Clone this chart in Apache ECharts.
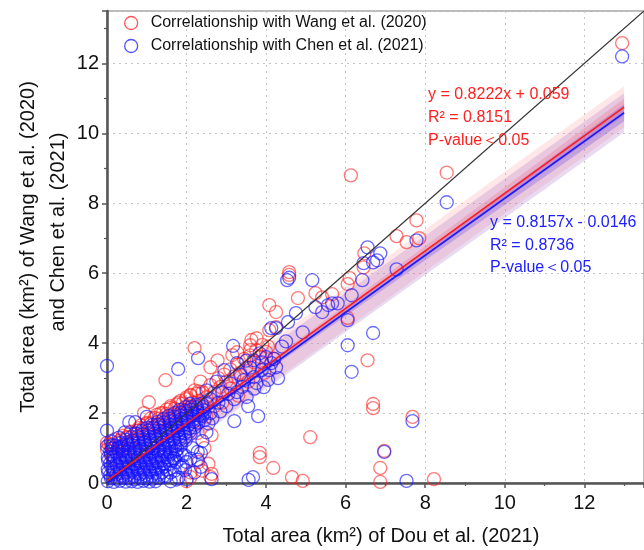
<!DOCTYPE html>
<html>
<head>
<meta charset="utf-8">
<script src="https://cdn.jsdelivr.net/npm/echarts@6/dist/echarts.min.js"></script>
<style>
  html, body { margin: 0; padding: 0; background: #fff; }
  #chart { width: 644px; height: 550px; }
</style>
</head>
<body>
<div id="chart"></div>
<script>
// ====================== data ======================
// Wang et al. (2020) vs Dou et al. (2021)
var wangPts = [
  [12.95,12.58],[6.13,8.8],[8.54,8.88],[7.78,7.51],[7.28,7.06],[7.53,6.89],[7.85,7.0],
  [6.47,6.57],[6.45,6.17],[6.1,5.86],[6.05,5.69],[5.66,5.4],[6.05,4.72],[6.55,3.51],
  [6.69,2.26],[6.69,2.14],[7.68,1.89],[6.97,0.92],[6.87,0.43],[6.87,0.03],[8.22,0.11],
  [5.11,1.31],[3.84,0.86],[3.84,0.74],[4.18,0.43],[4.65,0.17],[4.92,0.06],[2.63,1.37],
  [2.63,0.26],[2.6,0.17],[2.1,0.17],[2.28,1.43],
  [4.58,6.03],[4.58,5.95],[4.08,5.09],[4.25,4.89],[4.8,5.29],[5.24,5.43],[5.41,5.31],
  [3.6,3.94],[3.76,4.14],[4.08,4.37],[3.6,3.8],[3.27,3.74],[2.2,3.86],[1.47,2.94],
  [1.05,2.31],[2.6,3.31],[2.78,3.51],[3.15,3.66],[4.25,4.46],[3.63,4.09],[0.93,2.0],
  [1.26,1.66],[0.8,1.5],
  [2.4,2.6],[2.5,2.45],[2.6,2.8],[2.7,2.6],[2.8,3.0],[2.85,2.75],[2.95,3.1],[3.0,2.9],
  [3.1,3.25],[3.2,3.05],[3.3,3.4],[3.35,3.15],[3.45,3.55],[3.5,3.3],[3.6,3.65],[3.7,3.45],
  [3.75,3.8],[3.85,3.6],[3.9,3.95],[4.0,3.75],[4.05,3.9],[4.2,3.55],[3.3,2.5],[3.55,2.9],
  [2.9,2.3],[3.1,2.7],[3.95,3.15],[2.5,1.9],[2.7,2.2],[2.35,2.9],[2.45,2.2],
  [0.0,0.95],[0.05,1.1],[0.1,0.8],[0.15,1.0],[0.2,0.7],[0.25,1.15],[0.3,0.9],[0.35,1.25],
  [0.4,1.05],[0.45,0.8],[0.5,1.3],[0.55,1.1],[0.6,1.45],[0.65,1.2],[0.7,0.95],[0.75,1.5],
  [0.8,1.3],[0.85,1.65],[0.9,1.4],[0.95,1.15],[1.0,1.7],[1.05,1.5],[1.1,1.85],[1.15,1.6],
  [1.2,1.35],[1.25,1.95],[1.3,1.7],[1.35,2.0],[1.4,1.8],[1.45,1.5],[1.5,2.1],[1.55,1.9],
  [1.6,2.2],[1.65,1.95],[1.7,1.7],[1.75,2.25],[1.8,2.05],[1.85,2.35],[1.9,2.1],[1.95,1.85],
  [2.0,2.4],[2.05,2.2],[2.1,2.5],[2.15,2.3],[2.2,2.0],[2.25,2.55],[2.3,2.35],
  [2.3,0.6],[2.1,0.3],[2.45,1.0],[2.55,0.55],[2.0,0.05],[2.4,0.35],
  [0.0,1.15],[0.1,1.1],[0.2,1.25],[0.3,1.2],[0.4,1.35],[0.5,1.32],[0.6,1.47],[0.7,1.42],
  [0.8,1.57],[0.9,1.55],[1.0,1.72],[1.1,1.7],[1.2,1.86],[1.3,1.84],[1.4,2.0],[1.5,1.98],
  [1.6,2.15],[1.7,2.13],[1.8,2.3],[1.9,2.28],[2.0,2.45],[2.1,2.52],[2.2,2.65],[2.3,2.62]
];

// Chen et al. (2021) vs Dou et al. (2021)
var chenPts = [
  [12.95,12.2],[8.54,8.03],[6.55,6.74],[6.87,6.57],[6.79,6.37],[6.69,6.31],[6.45,6.29],
  [7.78,6.94],[7.28,6.11],[6.42,5.8],[6.15,5.37],[5.8,5.14],[6.05,4.66],[6.05,3.94],
  [6.69,4.29],[6.15,3.18],[7.68,1.77],[6.97,0.89],[7.53,0.06],[3.67,0.17],[3.56,0.09],
  [3.8,1.91],[3.2,1.77],[2.36,0.86],[2.36,0.46],[2.63,0.11],[0.0,3.35],[0.0,1.5],
  [1.79,3.26],[2.29,3.57],[3.17,3.92],[4.58,5.87],[4.53,5.8],[5.16,5.8],[4.75,4.86],
  [4.55,4.6],[4.92,4.31],[5.24,5.03],[5.41,4.89],[5.56,5.09],[5.66,5.14],[4.13,4.43],
  [4.25,4.43],[4.4,3.9],[4.5,4.05],
  [3.69,3.51],[3.84,3.71],[4.0,3.6],[4.13,3.43],[3.89,3.23],[3.94,2.74],[3.27,2.6],
  [3.51,2.46],[2.95,3.23],[3.27,3.43],[3.44,2.94],[3.69,3.03],[4.08,3.23],[4.25,3.31],
  [4.3,3.0],[3.76,2.86],[3.5,3.5],[3.6,3.3],[3.35,3.1],[3.1,2.85],[2.9,2.6],[2.75,2.9],
  [2.6,2.4],[2.5,2.65],[2.8,2.3],[3.0,2.2],[3.2,2.4],[3.4,2.75],[3.55,2.2],[3.9,3.45],
  [4.05,2.95],[4.2,3.55],[2.85,2.05],[2.65,1.85],[3.05,2.55],[3.7,2.7],
  [0.0,1.05],[0.1,1.2],[0.56,1.74],[0.71,1.74],[1.0,1.89],[0.3,1.3],[0.45,1.45],
  [0.14,1.08],[0.31,1.03],[0.44,1.09],
  [1.75,0.1],[1.6,0.3],[1.85,0.45],[1.7,0.7],[2.0,0.6],[1.9,0.8],
  [1.5,0.2],[1.6,0.05],[1.7,0.35],[1.8,0.15],[1.9,0.5],[1.96,0.37],
  [2.0,0.1],[2.1,0.7],[2.2,0.3],[2.28,0.89],[2.28,0.66],[2.15,1.0],[1.95,0.8],[1.75,0.6],
  [2.4,1.2],[2.5,1.45],[2.55,1.7],[2.45,1.8],[2.6,2.0]
];

// the solid core of Chen points near the origin
var chenCore = [
  [0.02,0.05],[0.17,0.03],[0.32,0.06],[0.47,0.04],[0.62,0.05],[0.77,0.03],[0.92,0.06],[1.07,0.04],[1.22,0.05],
  [0.08,0.22],[0.23,0.24],[0.38,0.21],[0.53,0.23],[0.68,0.2],[0.83,0.24],[0.98,0.22],[1.13,0.21],[1.28,0.23],[1.42,0.2],
  [0.02,0.39],[0.17,0.41],[0.32,0.38],[0.47,0.4],[0.62,0.37],[0.77,0.41],[0.92,0.39],[1.07,0.38],[1.22,0.4],[1.37,0.41],[1.5,0.38],
  [0.08,0.56],[0.23,0.55],[0.38,0.58],[0.53,0.56],[0.68,0.54],[0.83,0.57],[0.98,0.56],[1.13,0.55],[1.28,0.58],[1.43,0.56],[1.58,0.55],
  [0.02,0.73],[0.17,0.75],[0.32,0.72],[0.47,0.74],[0.62,0.73],[0.77,0.71],[0.92,0.74],[1.07,0.73],[1.22,0.72],[1.37,0.75],[1.52,0.73],[1.67,0.71],
  [0.08,0.9],[0.23,0.88],[0.38,0.91],[0.53,0.9],[0.68,0.89],[0.83,0.92],[0.98,0.9],[1.13,0.88],[1.28,0.91],[1.43,0.9],[1.58,0.89],[1.73,0.92],
  [0.22,1.07],[0.37,1.05],[0.52,1.08],[0.67,1.07],[0.82,1.06],[0.97,1.09],[1.12,1.07],[1.27,1.05],[1.42,1.08],[1.57,1.07],[1.72,1.06],[1.87,1.09],
  [0.48,1.24],[0.63,1.22],[0.78,1.25],[0.93,1.24],[1.08,1.23],[1.23,1.26],[1.38,1.24],[1.53,1.22],[1.68,1.25],[1.83,1.24],[1.98,1.23],
  [0.75,1.41],[0.9,1.39],[1.05,1.42],[1.2,1.41],[1.35,1.4],[1.5,1.43],[1.65,1.41],[1.8,1.39],[1.95,1.42],[2.1,1.41],
  [1.02,1.58],[1.17,1.56],[1.32,1.59],[1.47,1.58],[1.62,1.57],[1.77,1.6],[1.92,1.58],[2.07,1.56],[2.2,1.59],
  [1.28,1.75],[1.43,1.73],[1.58,1.76],[1.73,1.75],[1.88,1.74],[2.03,1.77],[2.18,1.75],[2.3,1.73],
  [1.55,1.92],[1.7,1.9],[1.85,1.93],[2.0,1.92],[2.15,1.91],[2.3,1.94],[2.4,1.92],
  [1.82,2.09],[1.97,2.07],[2.12,2.1],[2.27,2.09],[2.42,2.08],
  [2.08,2.26],[2.23,2.24],[2.38,2.27],[2.52,2.26],
  [0.1,0.13],[0.25,0.12],[0.4,0.15],[0.55,0.13],[0.7,0.11],[0.85,0.14],[1.0,0.13],[1.15,0.12],[1.3,0.14],
  [0.03,0.3],[0.18,0.31],[0.33,0.29],[0.48,0.3],[0.63,0.32],[0.78,0.29],[0.93,0.3],[1.08,0.31],[1.23,0.29],[1.38,0.3],
  [0.1,0.47],[0.25,0.48],[0.4,0.46],[0.55,0.47],[0.7,0.49],[0.85,0.46],[1.0,0.47],[1.15,0.48],[1.3,0.46],[1.45,0.47],
  [0.03,0.64],[0.18,0.65],[0.33,0.63],[0.48,0.64],[0.63,0.66],[0.78,0.63],[0.93,0.64],[1.08,0.65],[1.23,0.63],[1.38,0.64],[1.53,0.66],[1.63,0.63],
  [0.1,0.81],[0.25,0.82],[0.4,0.8],[0.55,0.81],[0.7,0.83],[0.85,0.8],[1.0,0.81],[1.15,0.82],[1.3,0.8],[1.45,0.81],[1.6,0.83],[1.75,0.8],
  [0.12,0.98],[0.27,0.99],[0.42,0.97],[0.57,0.98],[0.72,1.0],[0.87,0.97],[1.02,0.98],[1.17,0.99],[1.32,0.97],[1.47,0.98],[1.62,1.0],[1.77,0.97],
  [0.35,1.15],[0.5,1.16],[0.65,1.14],[0.8,1.15],[0.95,1.17],[1.1,1.14],[1.25,1.15],[1.4,1.16],[1.55,1.14],[1.7,1.15],[1.85,1.17],
  [0.62,1.32],[0.77,1.33],[0.92,1.31],[1.07,1.32],[1.22,1.34],[1.37,1.31],[1.52,1.32],[1.67,1.33],[1.82,1.31],[1.97,1.32],
  [0.88,1.49],[1.03,1.5],[1.18,1.48],[1.33,1.49],[1.48,1.51],[1.63,1.48],[1.78,1.49],[1.93,1.5],[2.08,1.48],
  [1.15,1.66],[1.3,1.67],[1.45,1.65],[1.6,1.66],[1.75,1.68],[1.9,1.65],[2.05,1.66],[2.2,1.67],
  [1.42,1.83],[1.57,1.84],[1.72,1.82],[1.87,1.83],[2.02,1.85],[2.17,1.82],[2.32,1.83],
  [1.7,2.0],[1.85,2.01],[2.0,1.99],[2.15,2.0],[2.3,2.02],[2.45,1.99],
  [1.97,2.17],[2.12,2.18],[2.27,2.16],[2.42,2.17]
];

// 1:1 line and fitted lines (end points)
var oneToOne = [[0, 0], [13.5, 13.5]];
var wangFit = [[0, 0.059], [13, 10.748]];
var chenFit = [[0, -0.015], [13, 10.59]];

// bands
var bandX      = [0, 2, 4, 6, 8, 10, 13];
var wangPredLo = [-0.55, 1.1, 2.76, 4.4, 6.05, 7.7, 10.17];
var wangPredHi = [0.65, 2.3, 3.95, 5.6, 7.25, 8.9, 11.35];
var chenPredLo = [-0.58, 1.06, 2.69, 4.32, 5.95, 7.58, 10.03];
var chenPredHi = [0.55, 2.18, 3.81, 5.44, 7.07, 8.7, 11.15];
var wangCiLo   = [-0.02, 1.65, 3.28, 4.89, 6.5, 8.1, 10.51];
var wangCiHi   = [0.14, 1.75, 3.42, 5.09, 6.78, 8.46, 10.99];
var chenCiLo   = [-0.1, 1.57, 3.18, 4.78, 6.37, 7.96, 10.35];
var chenCiHi   = [0.07, 1.67, 3.32, 4.98, 6.65, 8.32, 10.83];

var FONT = 'Liberation Sans, Arial, sans-serif';

// ====================== band helper ======================
function bandSeries(lo, hi, color, z) {
    return {
        type: 'custom',
        clip: true,
        silent: true,
        z: z,
        data: [0],
        renderItem: function (params, api) {
            var pts = [];
            for (var i = 0; i < bandX.length; i++) {
                pts.push(api.coord([bandX[i], hi[i]]));
            }
            for (var j = bandX.length - 1; j >= 0; j--) {
                pts.push(api.coord([bandX[j], lo[j]]));
            }
            return {
                type: 'polygon',
                shape: { points: pts },
                style: { fill: color, stroke: null }
            };
        }
    };
}

function axisCommon(max) {
    return {
        type: 'value',
        min: 0,
        max: max,
        interval: 2,
        axisLine: { show: true, onZero: false, lineStyle: { color: '#555', width: 2.5 } },
        axisTick: { show: true, length: 5, lineStyle: { color: '#555', width: 1.5 } },
        minorTick: { show: true, splitNumber: 2, length: 3, lineStyle: { color: '#555', width: 1.2 } },
        splitLine: { show: true, lineStyle: { color: '#c4c4c4', width: 1, type: [2, 4] } },
        axisLabel: { fontSize: 20, color: '#111', fontFamily: FONT, showMaxLabel: false }
    };
}

var chart = echarts.init(document.getElementById('chart'));

var xAx = axisCommon(13.5);
xAx.axisLabel.margin = 10;
var yAx = axisCommon(13.5);
yAx.axisLabel.margin = 8;

function txt(x, y, s, size, color, rot) {
    return {
        type: 'text', x: x, y: y, z: 20, rotation: rot || 0,
        style: { text: s, fontSize: size, fontFamily: FONT, fill: color,
                 align: rot ? 'center' : (color === '#111' ? 'center' : 'left'), verticalAlign: 'middle' }
    };
}

var option = {
    backgroundColor: '#fff',
    animation: false,
    grid: {
        left: 107, top: 11, right: -11, bottom: 67,
        show: true, borderColor: '#777', borderWidth: 1
    },
    xAxis: xAx,
    yAxis: yAx,
    legend: {
        orient: 'vertical',
        left: 119,
        top: 10,
        itemWidth: 13,
        itemHeight: 13,
        itemGap: 7,
        textStyle: { fontSize: 16, color: '#111', fontFamily: FONT, padding: [0, 0, 0, 8] },
        data: [
            { name: 'Correlationship with Wang et al. (2020)', icon: 'circle',
              itemStyle: { color: 'transparent', borderColor: '#ff2a2a', borderWidth: 1.3 } },
            { name: 'Correlationship with Chen et al. (2021)', icon: 'circle',
              itemStyle: { color: 'transparent', borderColor: '#2323ff', borderWidth: 1.3 } }
        ]
    },
    graphic: [
        txt(381, 536, 'Total area (km²) of Dou et al. (2021)', 20, '#111'),
        txt(28, 247, 'Total area (km²) of Wang et al. (2020)', 20, '#111', Math.PI / 2),
        txt(58, 232, 'and Chen et al. (2021)', 20, '#111', Math.PI / 2),
        txt(428, 95, 'y = 0.8222x + 0.059', 16, '#ff2020'),
        txt(428, 118, 'R² = 0.8151', 16, '#ff2020'),
        txt(428, 141, 'P-value＜0.05', 16, '#ff2020'),
        txt(490, 223, 'y = 0.8157x - 0.0146', 16, '#2020ff'),
        txt(490, 246, 'R² = 0.8736', 16, '#2020ff'),
        txt(490, 268, 'P-value＜0.05', 16, '#2020ff')
    ],
    series: [
        bandSeries(wangPredLo, wangPredHi, 'rgba(255,140,150,0.22)', 1),
        bandSeries(chenPredLo, chenPredHi, 'rgba(150,90,190,0.22)', 1),
        bandSeries(wangCiLo, wangCiHi, 'rgba(230,90,120,0.25)', 1),
        bandSeries(chenCiLo, chenCiHi, 'rgba(100,60,220,0.28)', 1),
        {
            name: 'Correlationship with Wang et al. (2020)',
            type: 'scatter',
            symbol: 'circle',
            symbolSize: 13,
            z: 2,
            itemStyle: { color: 'transparent', borderColor: 'rgba(255,30,30,0.75)', borderWidth: 1.3 },
            data: wangPts
        },
        {
            name: 'Correlationship with Chen et al. (2021)',
            type: 'scatter',
            symbol: 'circle',
            symbolSize: 13,
            z: 3,
            itemStyle: { color: 'transparent', borderColor: 'rgba(20,20,255,0.8)', borderWidth: 1.3 },
            data: chenPts.concat(chenCore)
        },
        {
            type: 'line', data: oneToOne, symbol: 'none', silent: true, z: 5,
            lineStyle: { color: '#333', width: 1.2 }
        },
        {
            type: 'line', data: wangFit, symbol: 'none', silent: true, z: 6,
            lineStyle: { color: '#ff1a1a', width: 1.6 }
        },
        {
            type: 'line', data: chenFit, symbol: 'none', silent: true, z: 6,
            lineStyle: { color: '#1a1aff', width: 1.6 }
        }
    ]
};

chart.setOption(option);
</script>
</body>
</html>
